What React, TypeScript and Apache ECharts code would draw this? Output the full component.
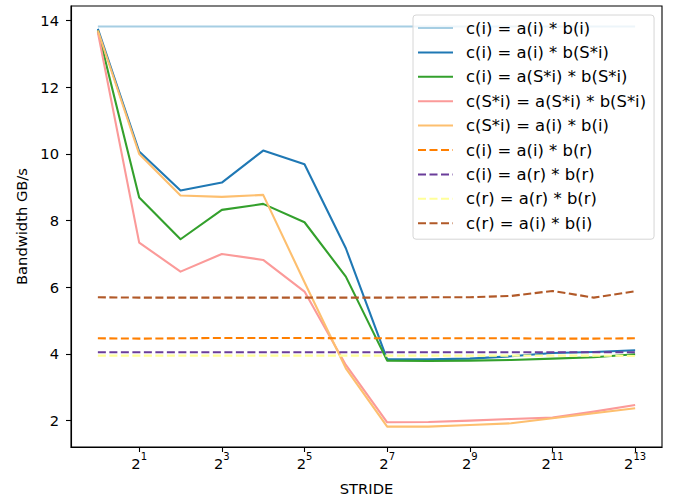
import React, { useEffect, useRef } from "react";
import * as echarts from "echarts";

const strides = [1, 2, 4, 8, 16, 32, 64, 128, 256, 512, 1024, 2048, 4096, 8192];

const seriesNames = [
  "c(i) = a(i) * b(i)",
  "c(i) = a(i) * b(S*i)",
  "c(i) = a(S*i) * b(S*i)",
  "c(S*i) = a(S*i) * b(S*i)",
  "c(S*i) = a(i) * b(i)",
  "c(i) = a(i) * b(r)",
  "c(i) = a(r) * b(r)",
  "c(r) = a(r) * b(r)",
  "c(r) = a(i) * b(i)",
];

const s1 = [13.82, 13.82, 13.82, 13.82, 13.82, 13.82, 13.82, 13.82, 13.82, 13.82, 13.82, 13.82, 13.82, 13.82];
const s2 = [13.75, 10.07, 8.9, 9.14, 10.1, 9.69, 7.17, 3.84, 3.84, 3.86, 3.93, 4.03, 4.06, 4.11];
const s3 = [13.7, 8.69, 7.44, 8.32, 8.5, 7.95, 6.32, 3.8, 3.79, 3.8, 3.82, 3.86, 3.9, 3.99];
const s4 = [13.65, 7.34, 6.47, 7.0, 6.82, 5.87, 3.67, 1.95, 1.96, 2.0, 2.05, 2.09, 2.27, 2.47];
const s5 = [13.7, 10.0, 8.75, 8.71, 8.77, 6.15, 3.57, 1.82, 1.82, 1.87, 1.92, 2.07, 2.22, 2.37];
const s6 = [4.47, 4.46, 4.47, 4.48, 4.48, 4.48, 4.47, 4.47, 4.47, 4.47, 4.47, 4.46, 4.46, 4.47];
const s7 = [4.05, 4.05, 4.05, 4.05, 4.05, 4.05, 4.05, 4.05, 4.05, 4.05, 4.05, 4.05, 4.05, 4.05];
const s8 = [3.95, 3.95, 3.95, 3.95, 3.95, 3.95, 3.95, 3.95, 3.95, 3.95, 3.95, 3.95, 3.95, 3.94];
const s9 = [5.7, 5.69, 5.69, 5.69, 5.69, 5.69, 5.69, 5.69, 5.7, 5.7, 5.74, 5.89, 5.69, 5.88];

const allValues = [s1, s2, s3, s4, s5, s6, s7, s8, s9];
const colors = ["#a6cee3", "#1f78b4", "#33a02c", "#fb9a99", "#fdbf6f", "#ff7f00", "#6a3d9a", "#ffff99", "#b15928"];
const dashed = [false, false, false, false, false, true, true, true, true];

const xTickValues = [2, 8, 32, 128, 512, 2048, 8192];
const yTicks = [2, 4, 6, 8, 10, 12, 14];

const FONT = "DejaVu Sans";
const FS = 14.7;
const LEGEND_FS = 16.4;

export default function App() {
  const ref = useRef<HTMLDivElement>(null);
  useEffect(() => {
    if (!ref.current) return;
    const chart = echarts.init(ref.current, null, { renderer: "svg" });
    const series = allValues.map((vals, i) => ({
      name: seriesNames[i],
      type: "line",
      data: strides.map((s, j) => [s, vals[j]]),
      symbol: "none",
      showSymbol: false,
      color: colors[i],
      lineStyle: {
        color: colors[i],
        width: 2.1,
        type: dashed[i] ? [8, 3.5] : "solid",
        cap: "butt",
        join: "round",
      },
      emphasis: { disabled: true },
      z: 2 + i * 0.01,
    }));
    chart.setOption({
      animation: false,
      backgroundColor: "#ffffff",
      textStyle: { fontFamily: FONT },
      grid: {
        left: 71,
        top: 6,
        right: 15,
        bottom: 50,
        containLabel: false,
        outerBoundsMode: "none",
        show: true,
        borderColor: "#000",
        borderWidth: 1.1,
        backgroundColor: "transparent",
      },
      legend: {
        orient: "vertical",
        left: 413,
        top: 15,
        data: seriesNames,
        itemWidth: 35,
        itemHeight: 14,
        itemGap: 8.4,
        padding: [5, 8, 8, 4],
        backgroundColor: "rgba(255,255,255,0.8)",
        borderColor: "#d6d6d6",
        borderWidth: 1,
        borderRadius: 3,
        itemStyle: { opacity: 0 },
        textStyle: { fontFamily: FONT, fontSize: LEGEND_FS, color: "#000", padding: [0, 0, 0, 8] },
        selectedMode: false,
      },
      xAxis: {
        type: "log",
        logBase: 2,
        min: Math.pow(2, -0.65),
        max: Math.pow(2, 13.65),
        name: "STRIDE",
        nameLocation: "middle",
        nameGap: 34,
        nameTextStyle: { fontFamily: FONT, fontSize: FS, color: "#000" },
        axisLine: { show: true, lineStyle: { color: "#000", width: 1.1 } },
        axisTick: { show: true, length: 5, lineStyle: { color: "#000", width: 1.1 }, customValues: xTickValues },
        minorTick: { show: false },
        splitLine: { show: false },
        axisLabel: {
          customValues: xTickValues,
          margin: 4,
          color: "#000",
          fontFamily: FONT,
          formatter: (v: number) => `{b|2}{e|${Math.round(Math.log2(v))}}`,
          rich: {
            b: { fontFamily: FONT, fontSize: FS, color: "#000", lineHeight: 20, verticalAlign: "bottom" },
            e: { fontFamily: FONT, fontSize: 10, color: "#000", lineHeight: 16, verticalAlign: "top" },
          },
        },
      },
      yAxis: {
        type: "value",
        min: 1.21,
        max: 14.435,
        name: "Bandwidth GB/s",
        nameLocation: "middle",
        nameGap: 42,
        nameTextStyle: { fontFamily: FONT, fontSize: FS, color: "#000" },
        axisLine: { show: true, lineStyle: { color: "#000", width: 1.1 } },
        axisTick: { show: true, length: 5, lineStyle: { color: "#000", width: 1.1 }, customValues: yTicks },
        splitLine: { show: false },
        axisLabel: {
          customValues: yTicks,
          margin: 12,
          color: "#000",
          fontFamily: FONT,
          fontSize: FS,
        },
      },
      series,
    });
    return () => chart.dispose();
  }, []);
  return <div ref={ref} style={{ position: "fixed", left: 0, top: 0, width: 677, height: 497 }} />;
}
